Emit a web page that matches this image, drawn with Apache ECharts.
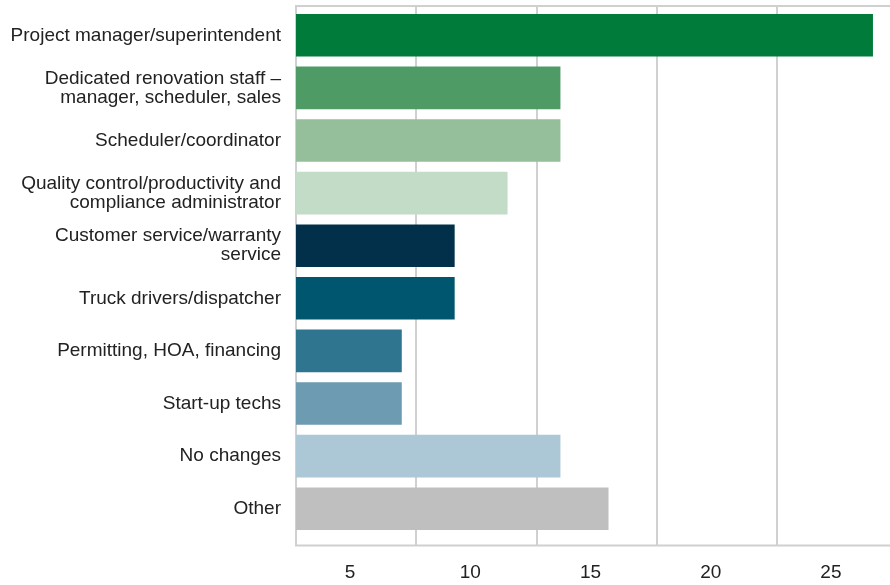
<!DOCTYPE html>
<html>
<head>
<meta charset="utf-8">
<script src="https://cdn.jsdelivr.net/npm/echarts@6/dist/echarts.min.js"></script>
<style>
  html, body { margin: 0; padding: 0; background: #ffffff; }
  #chart { width: 890px; height: 585px; }
</style>
</head>
<body>
<div id="chart"></div>
<script>
// Staffing roles, top to bottom
const categories = [
  'Project manager/superintendent',
  'Dedicated renovation staff –\nmanager, scheduler, sales',
  'Scheduler/coordinator',
  'Quality control/productivity and\ncompliance administrator',
  'Customer service/warranty\nservice',
  'Truck drivers/dispatcher',
  'Permitting, HOA, financing',
  'Start-up techs',
  'No changes',
  'Other'
];

// Share of responses for each role
const values = [24, 11, 11, 8.8, 6.6, 6.6, 4.4, 4.4, 11, 13];

// Labels printed under the bottom axis
const tickLabels = ['5', '10', '15', '20', '25'];

// One fill per bar
const palette = [
  '#007B3A', '#4F9B65', '#95BF9B', '#C3DCC7',
  '#02304A', '#00566E', '#2F7590', '#6C9BB2',
  '#ACC8D6', '#BFBFBF'
];

const lineColor = '#D0D0D0';
const textColor = '#222222';
const fontFamily = '"Liberation Sans", Arial, sans-serif';

const chart = echarts.init(document.getElementById('chart'), null, { renderer: 'canvas' });

chart.setOption({
  animation: false,
  backgroundColor: '#ffffff',
  grid: [
    // frame with vertical guide lines
    {
      left: 296, right: -7, top: 6, bottom: 39.5,
      show: true, borderColor: lineColor, borderWidth: 2,
      backgroundColor: 'transparent',
      containLabel: false, outerBoundsMode: 'none'
    },
    // plotting area for the bars
    {
      left: 296, right: -7, top: 9, bottom: 50,
      containLabel: false, outerBoundsMode: 'none'
    }
  ],
  xAxis: [
    {
      gridIndex: 0,
      type: 'category',
      data: tickLabels,
      position: 'bottom',
      boundaryGap: true,
      axisLine: { show: false },
      axisTick: { show: false },
      splitLine: { show: true, lineStyle: { color: lineColor, width: 2 } },
      axisLabel: {
        show: true,
        interval: 0,
        margin: 18,
        color: textColor,
        fontFamily: fontFamily,
        fontSize: 19,
        padding: [0, 12, 0, 0]
      }
    },
    {
      gridIndex: 1,
      type: 'value',
      min: 0,
      max: 25,
      interval: 5,
      axisLine: { show: false },
      axisTick: { show: false },
      axisLabel: { show: false },
      splitLine: { show: false }
    }
  ],
  yAxis: [
    {
      gridIndex: 0,
      type: 'value',
      min: 0,
      max: 1,
      axisLine: { show: false },
      axisTick: { show: false },
      axisLabel: { show: false },
      splitLine: { show: false }
    },
    {
      gridIndex: 1,
      type: 'category',
      data: categories,
      inverse: true,
      axisLine: { show: false },
      axisTick: { show: false },
      splitLine: { show: false },
      axisLabel: {
        margin: 15,
        color: textColor,
        fontFamily: fontFamily,
        fontSize: 19,
        lineHeight: 19,
        align: 'right'
      }
    }
  ],
  series: [
    {
      type: 'bar',
      xAxisIndex: 1,
      yAxisIndex: 1,
      barCategoryGap: '19%',
      data: values.map((v, i) => ({ value: v, itemStyle: { color: palette[i] } })),
      label: { show: false },
      silent: true
    }
  ]
});
</script>
</body>
</html>
